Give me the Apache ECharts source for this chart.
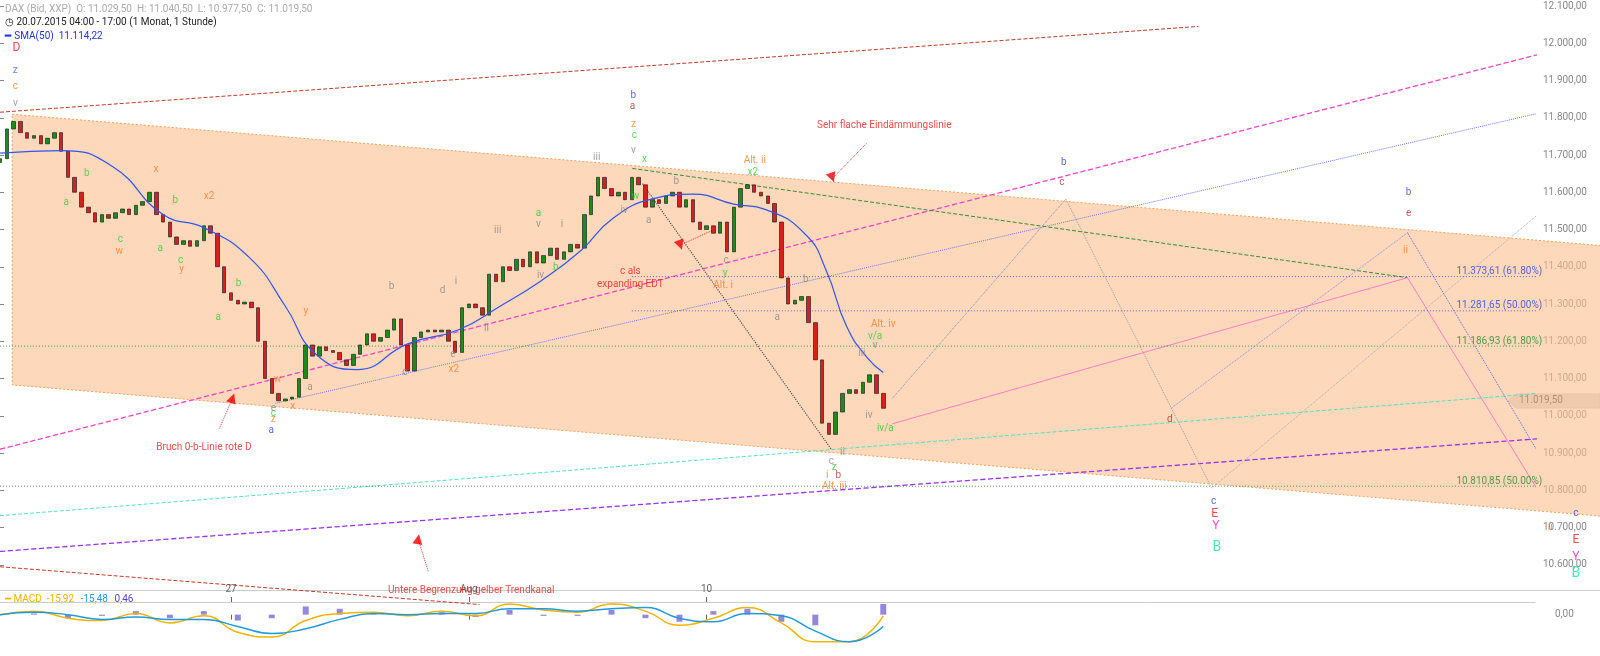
<!DOCTYPE html>
<html><head><meta charset="utf-8">
<script src="https://cdn.jsdelivr.net/npm/echarts@6/dist/echarts.min.js"></script>
<style>html,body{margin:0;padding:0;background:#fff}#c{width:1600px;height:656px}</style>
</head><body><div id="c"></div>
<script>
// hourly closes, DAX 20.07.2015 ...
const closes = [11690,11770,11790,11760,11745,11752,11730,11745,11760,11710,
11640,11600,11560,11545,11520,11540,11530,11545,11555,11540,
11565,11575,11600,11540,11520,11480,11460,11470,11455,11470,
11510,11490,11400,11330,11310,11300,11305,11290,11200,11100,
11060,11040,11045,11050,11100,11190,11160,11185,11175,11170,
11150,11135,11165,11190,11220,11200,11210,11230,11260,11190,
11120,11210,11225,11230,11225,11230,11200,11170,11290,11300,
11290,11270,11380,11360,11400,11390,11420,11400,11440,11410,
11430,11450,11420,11440,11460,11450,11540,11590,11640,11610,
11590,11600,11580,11640,11620,11560,11580,11570,11590,11600,
11560,11580,11520,11500,11510,11490,11520,11440,11560,11610,
11620,11600,11590,11570,11520,11370,11300,11310,11320,11250,
11150,10980,10950,11010,11060,11070,11060,11090,11110,11060,11020];
const smaIdx = [0,9,16.5,24,30,36.8,42,46.5,52.5,60,67.5,73.6,79.6,85.6,90,96,102,108,112.6,118.6,121.6,124.6,127.6,130];
const smaVal = [11705,11712,11670,11540,11505,11423,11294,11165,11124,11193,11231,11294,11362,11445,11527,11582,11595,11568,11554,11486,11390,11240,11157,11116];
const macdIdx = [0,5,10,15,20,25,30,35,40,45,50,55,60,65,70,75,80,85,90,95,100,105,110,115,120,125,130];
const macdVal = [0,6,-6,-10,2,-14,-2,-30,-38,-10,2,4,-2,6,-2,18,8,4,18,6,-18,-6,12,-14,-46,-46,-2];
const signalVal = [0,4,0,-8,-4,-8,-8,-20,-32,-24,-8,2,0,2,2,10,10,6,10,12,-6,-12,2,-2,-28,-46,-20];
const dateTicks = [34,69,104];
const dateLabels = {34:'27',69:'Aug',104:'10'};
const fibLevels = [[11373.61,'11.373,61 (61.80%)','#3344dd',93],[11281.65,'11.281,65 (50.00%)','#3344dd',93],[11186.93,'11.186,93 (61.80%)','#2a8a2a',0],[10810.85,'10.810,85 (50.00%)','#2a8a2a',0]];

const PX = 866/130; // pixels per bar in the picture
const fx = px => px/PX;
const fy = py => 12100 - (py-6)/0.3647;

const ohlc = closes.map((c,i)=>{const o = i? closes[i-1] : c-10; return [i,o,c,Math.min(o,c),Math.max(o,c)];});

const trend = [
 [0,110,1175,26,'#c0392b','dashed',1],
 [0,440,1600,30,'#ee44cc','dashed',1.3],
 [270,395,1600,90,'#6677ee','dotted',1],
 [620,165,1380,272,'#3a8a3a','dashed',1],
 [0,505,1600,378,'#55e0c0','dashed',1],
 [0,540,1600,423,'#9933ee','dashed',1.3],
 [0,555,470,592,'#c0392b','dashed',1],
 [875,415,1380,272,'#ff66cc','solid',0.8],
 [630,180,815,440,'#555','dotted',1.2],
 [875,390,1045,195,'#8888aa','dotted',1],
 [1045,195,1188,478,'#999','dotted',1],
 [1188,478,1600,133,'#aaa','dotted',1],
 [1148,400,1380,228,'#8888ee','dotted',1],
 [1380,228,1545,505,'#5566dd','dotted',1],
 [1545,505,1600,480,'#5566dd','dotted',1],
 [1380,272,1520,500,'#ff66cc','solid',0.8],
 [1520,500,1600,460,'#ff66cc','solid',0.8],
 [228,390,215,420,'#e03030','dotted',1],
 [667,240,700,225,'#e03030','dotted',1],
 [816,175,850,140,'#e03030','dotted',1],
 [410,528,420,560,'#e03030','dotted',1]
];
const arrows = [[228,390,'#e00',-20],[667,240,'#e00',200],[816,174,'#e00',200],[410,528,'#e00',-10]];
const labels = [
[16,47,'D','#e02020',12],[15,69,'z','#4060ff'],[15,85,'c','#f08030'],[15,101,'v','#888'],
[65,198,'a','#33cc33'],[85,170,'b','#33cc33'],[117,246,'w','#f08030'],[118,235,'c','#33cc33'],
[153,166,'x','#f08030'],[172,196,'b','#33cc33'],[157,243,'a','#33cc33'],[177,255,'c','#33cc33'],[178,264,'y','#f08030'],
[205,193,'x2','#f08030'],[234,278,'b','#33cc33'],[214,311,'a','#33cc33'],
[300,305,'y','#f08030'],[272,372,'w','#f08030'],[268,400,'e','#888'],[268,405,'c','#33cc33'],[268,411,'z','#f08030'],[266,422,'a','#3344dd'],
[287,398,'x','#f08030'],[304,380,'a','#888'],[384,281,'b','#888'],[434,285,'d','#888'],[447,276,'i','#888'],[444,347,'e','#888'],[445,362,'x2','#f08030'],[397,365,'c','#888'],
[488,226,'iii','#888'],[477,322,'ii','#888'],[528,209,'a','#33cc33'],[528,220,'v','#888'],[551,220,'i','#888'],[530,270,'iv','#888'],[545,262,'b','#33cc33'],
[585,154,'iii','#888'],[612,206,'iv','#888'],[621,94,'b','#3344dd'],[620,104,'a','#a33'],[621,122,'z','#f08030'],[622,133,'c','#33cc33'],[621,147,'v','#888'],
[632,156,'x','#33cc33'],[623,193,'w','#33cc33'],[636,216,'a','#888'],[663,178,'b','#888'],
[618,266,'c als','#e02020'],[618,279,'expanding EDT','#e02020'],
[740,157,'Alt. ii','#f08030'],[738,169,'x2','#33cc33'],[711,268,'y','#33cc33'],[709,280,'Alt. i','#f08030'],[712,255,'c','#888'],
[790,274,'b','#888'],[762,311,'a','#888'],[867,123,'Sehr flache Eindämmungslinie','#e02020'],
[866,318,'Alt. iv','#f08030'],[858,330,'v/a','#33cc33'],[858,338,'v','#888'],[845,346,'iii','#888'],[852,407,'iv','#888'],[868,420,'iv/a','#33cc33'],
[815,452,'c','#888'],[818,458,'z','#33cc33'],[826,443,'ii','#888'],[811,466,'i','#f08030'],[822,466,'b','#a33'],[818,476,'Alt. iii','#f08030'],
[200,438,'Bruch 0-b-Linie rote D','#e02020'],[462,578,'Untere Begrenzung gelber Trendkanal','#e02020'],
[1043,159,'b','#3344dd'],[1041,179,'c','#a33'],[1147,411,'d','#a33'],
[1190,491,'c','#3344dd'],[1191,503,'E','#e02020',12],[1192,515,'Y','#ee22cc',12],[1193,536,'B','#22ddaa',14],
[1381,189,'b','#3344dd'],[1381,209,'e','#a33'],[1378,245,'ii','#f08030'],
[1520,517,'ii','#f08030'],[1545,503,'c','#3344dd'],[1545,529,'E','#e02020',12],[1545,545,'Y','#ee22cc',12],[1545,562,'B','#22ddaa',14]
];

const chart = echarts.init(document.getElementById('c'));
const F = 'Roboto, "Open Sans", sans-serif';
const de = v => v.toLocaleString('de-DE',{minimumFractionDigits:2,maximumFractionDigits:2});
const xMax = fx(1505);

const series = [];
series.push({type:'custom',xAxisIndex:0,yAxisIndex:0,clip:false,silent:true,z:1,
 data:[[0]],renderItem:(p,api)=>{
  const pts=[[fx(12),fy(112)],[fx(1600),fy(243)],[fx(1600),fy(508)],[fx(12),fy(377)]].map(q=>api.coord(q));
  return {type:'polygon',shape:{points:pts},style:{fill:'rgba(252,190,140,0.6)',stroke:'#f0a060',lineWidth:1,lineDash:[2,2]}};
 }});
trend.forEach(t=>series.push({type:'line',xAxisIndex:0,yAxisIndex:0,symbol:'none',silent:true,z:2,clip:false,
 data:[[fx(t[0]),fy(t[1])],[fx(t[2]),fy(t[3])]],lineStyle:{color:t[4],type:t[5],width:t[6]}}));
fibLevels.forEach(f=>series.push({type:'line',xAxisIndex:0,yAxisIndex:0,symbol:'none',silent:true,z:2,clip:false,
 data:[[f[3],f[0]],[fx(1600),f[0]]],lineStyle:{color:f[2],type:[1,2],width:0.8}}));
series.push({type:'scatter',xAxisIndex:0,yAxisIndex:0,z:8,symbolSize:0,silent:true,clip:false,
 data:fibLevels.map(f=>({value:[fx(1470),f[0]],label:{show:true,position:'top',distance:0,formatter:f[1],color:f[2],fontSize:10,fontFamily:F}}))});
series.push({type:'candlestick',xAxisIndex:0,yAxisIndex:0,z:5,barWidth:4,
 data:ohlc.map(d=>[d[0],d[1],d[2],d[3],d[4]]),
 encode:{x:0,y:[1,2,3,4]},
 itemStyle:{color:'#1d8a1d',color0:'#d42020',borderColor:'#111',borderColor0:'#111',borderWidth:0.6}});
series.push({type:'line',xAxisIndex:0,yAxisIndex:0,symbol:'none',z:6,smooth:true,
 data:smaIdx.map((x,i)=>[x,smaVal[i]]),lineStyle:{color:'#3355ee',width:1.2}});
series.push({type:'scatter',xAxisIndex:0,yAxisIndex:0,z:7,symbol:'triangle',symbolSize:10,
 data:arrows.map(a=>({value:[fx(a[0]),fy(a[1])],itemStyle:{color:a[2]},symbolRotate:a[3]}))});
series.push({type:'scatter',xAxisIndex:0,yAxisIndex:0,z:8,symbolSize:0,silent:true,clip:false,
 data:labels.map(l=>({value:[fx(l[0]),fy(l[1])],label:{show:true,formatter:l[2],color:l[3],fontSize:l[4]||10,fontFamily:F}}))});
series.push({type:'bar',xAxisIndex:1,yAxisIndex:1,barWidth:6,data:macdIdx.map((x,i)=>[x,macdVal[i]-signalVal[i]]),itemStyle:{color:'#6655cc',opacity:0.7}});
series.push({type:'line',xAxisIndex:1,yAxisIndex:1,symbol:'none',smooth:true,data:macdIdx.map((x,i)=>[x,macdVal[i]]),lineStyle:{color:'#f0b400',width:1.5}});
series.push({type:'line',xAxisIndex:1,yAxisIndex:1,symbol:'none',smooth:true,data:macdIdx.map((x,i)=>[x,signalVal[i]]),lineStyle:{color:'#2299dd',width:1.5}});

chart.setOption({
 animation:false,
 grid:[{left:0,right:65,top:6,bottom:54,outerBoundsMode:'none',containLabel:false},{left:0,right:65,top:597,bottom:6,outerBoundsMode:'none',containLabel:false}],
 xAxis:[
  {type:'value',gridIndex:0,min:0,max:xMax,splitLine:{show:false},axisLine:{show:true,lineStyle:{color:'#ccc'}},
   axisTick:{show:true,customValues:dateTicks,inside:true,lineStyle:{color:'#666'}},
   axisLabel:{inside:true,customValues:dateTicks,formatter:v=>dateLabels[Math.round(v)]||'',color:'#666',fontSize:10,fontFamily:F}},
  {type:'value',gridIndex:1,min:0,max:xMax,splitLine:{show:false},axisLine:{show:false},
   axisTick:{show:true,customValues:dateTicks,lineStyle:{color:'#666'}},axisLabel:{show:false}}
 ],
 yAxis:[
  {type:'value',gridIndex:0,position:'right',min:10500,max:12100,interval:100,splitLine:{show:false},
   axisLine:{show:false},axisTick:{show:true,length:4,lineStyle:{color:'#888'},inside:false},
   axisLabel:{showMinLabel:false,color:'#888',fontSize:10,fontFamily:F,formatter:v=>de(v),margin:8}},
  {type:'value',gridIndex:1,position:'right',min:-60,max:30,splitLine:{show:false},axisLine:{show:false},
   axisTick:{show:true,customValues:[0],length:4},
   axisLabel:{customValues:[0],color:'#888',fontSize:10,fontFamily:F,formatter:v=>de(v),margin:20}}
 ],
 graphic:[
  {type:'text',left:5,top:4,style:{text:'DAX (Bid, XXP)  O: 11.029,50  H: 11.040,50  L: 10.977,50  C: 11.019,50',fill:'#aaa',font:'10px '+F}},
  {type:'text',left:5,top:17,style:{text:'◷ 20.07.2015 04:00 - 17:00 (1 Monat, 1 Stunde)',fill:'#222',font:'10px '+F}},
  {type:'text',left:5,top:30,style:{rich:{a:{fill:'#2233dd',font:'bold 10px '+F},b:{fill:'#2233dd',font:'10px '+F}},text:'{a|━} {b|SMA(50)  11.114,22}'}},
  {type:'rect',shape:{x:0,y:590,width:1600,height:1},style:{fill:'#ccc'}},
  {type:'text',left:5,top:593,style:{rich:{a:{fill:'#f0b400',font:'10px '+F},b:{fill:'#2299dd',font:'10px '+F},c:{fill:'#5544cc',font:'10px '+F}},text:'{a|━ MACD  -15,92}  {b|-15,48}  {c|0,46}'}},
  {type:'polygon',shape:{points:[[1508,401],[1516,394],[1600,394],[1600,408],[1516,408]]},style:{fill:'#ddd',stroke:'#ccc'}},
  {type:'text',left:1519,top:395,style:{text:'11.019,50',fill:'#444',font:'10px '+F}}
 ],
 series
});
</script></body></html>
